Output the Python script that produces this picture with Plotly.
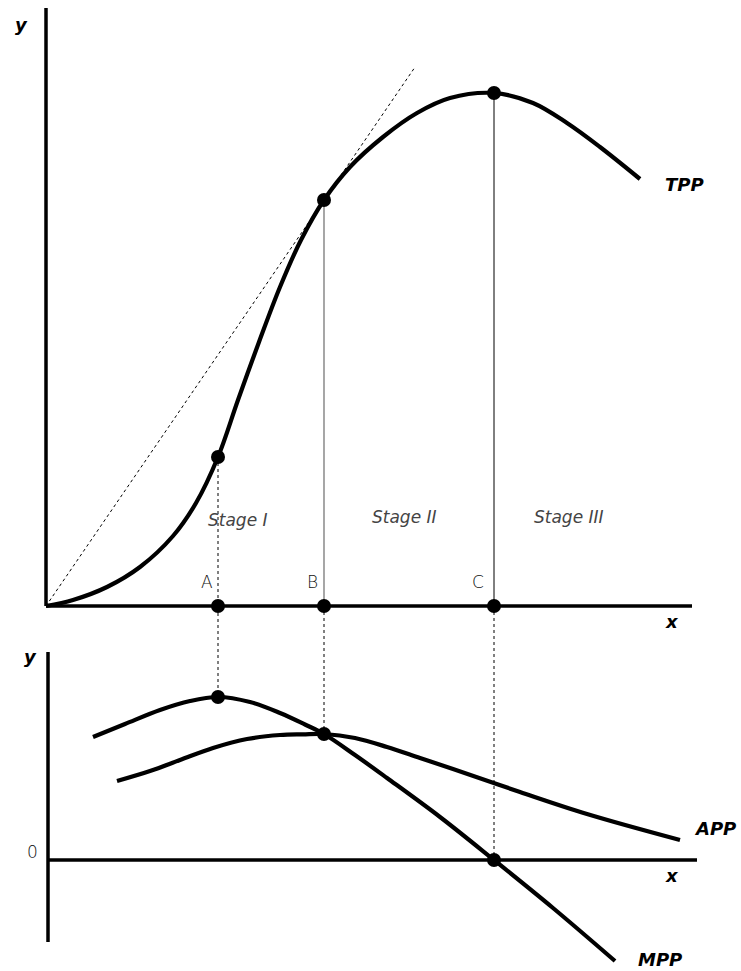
import plotly.graph_objects as go

# ---------------- data ----------------
# key input levels (x) for points A, B, C
point_labels = ["A", "B", "C"]
point_x = [4.3, 6.95, 11.2]

# Total physical product curve
tpp_x = [0, 0.675, 1.525, 2.35, 3.175, 3.75, 4.3, 4.8, 5.325, 5.85, 6.375, 6.95,
         7.6, 8.425, 9.275, 10.1, 11.2, 12.175, 13.025, 13.85, 14.85]
tpp_y = [0, 0.6, 1.9, 3.9, 7.0, 10.3, 14.9, 20.6, 26.4, 31.9, 36.6, 40.6,
         43.9, 46.9, 49.3, 50.8, 51.3, 50.3, 48.3, 45.9, 42.7]
tpp_at_points = [14.9, 40.6, 51.3]

# Marginal physical product curve
mpp_x = [1.175, 1.975, 2.85, 3.6, 4.3, 5.1, 5.85, 6.475, 6.95, 7.725, 8.525, 9.85,
         11.2, 12.675, 14.225]
mpp_y = [12.3, 13.6, 15.0, 15.9, 16.3, 15.8, 14.7, 13.55, 12.6, 10.5, 8.2, 4.3,
         0.0, -4.8, -10.1]
mpp_at_points = [16.3, 12.6, 0.0]

# Average physical product curve
app_x = [1.775, 2.6, 3.35, 4.175, 5.025, 5.85, 6.425, 6.95, 7.725, 8.525, 9.35,
         10.175, 11.85, 13.525, 15.85]
app_y = [7.9, 8.9, 10.0, 11.2, 12.1, 12.5, 12.57, 12.6, 12.2, 11.3, 10.2,
         9.1, 6.8, 4.6, 2.0]

# ray from the origin tangent to TPP at B (extends to this x)
ray_end_x = 9.225

stage_labels = ["Stage I", "Stage II", "Stage III"]
curve_labels = ["TPP", "APP", "MPP"]

# ---------------- layout helpers ----------------
W, H = 741, 971
X_RANGE = [-1.15, 17.375]
Y_RANGE = [-36.5, 60.6]      # top panel
Y2_RANGE = [-11.1, 86.0]     # bottom panel (overlaid)
Y_SHIFT = Y2_RANGE[1] - Y_RANGE[1]   # y2 = y + Y_SHIFT


def P(px, py):
    return px / W, 1 - py / H


fig = go.Figure()

LW = 4.2
DOT = dict(size=14, color="black")
SPL = dict(shape="spline", smoothing=1.0)

# tangent ray (dotted)
slope = tpp_at_points[1] / point_x[1]
fig.add_trace(go.Scatter(x=[0, ray_end_x], y=[0, slope * ray_end_x], mode="lines",
                         line=dict(color="black", width=1, dash="dot"), yaxis="y"))

# vertical guide lines in the top panel
fig.add_trace(go.Scatter(x=[point_x[0], point_x[0]], y=[tpp_at_points[0], mpp_at_points[0] - Y_SHIFT],
                         mode="lines", line=dict(color="black", width=1, dash="dot"), yaxis="y"))
fig.add_trace(go.Scatter(x=[point_x[1], point_x[1]], y=[tpp_at_points[1], 0],
                         mode="lines", line=dict(color="#777777", width=1.3), yaxis="y"))
fig.add_trace(go.Scatter(x=[point_x[2], point_x[2]], y=[tpp_at_points[2], 0],
                         mode="lines", line=dict(color="black", width=1), yaxis="y"))
# dotted continuations into the bottom panel
for i in (1, 2):
    fig.add_trace(go.Scatter(x=[point_x[i], point_x[i]], y=[Y_SHIFT, mpp_at_points[i]],
                             mode="lines", line=dict(color="black", width=1, dash="dot"), yaxis="y2"))

# TPP curve
fig.add_trace(go.Scatter(x=tpp_x, y=tpp_y, mode="lines",
                         line=dict(color="black", width=LW, **SPL), yaxis="y"))
# MPP & APP curves
fig.add_trace(go.Scatter(x=mpp_x, y=mpp_y, mode="lines",
                         line=dict(color="black", width=LW, **SPL), yaxis="y2"))
fig.add_trace(go.Scatter(x=app_x, y=app_y, mode="lines",
                         line=dict(color="black", width=LW, **SPL), yaxis="y2"))

# axis lines (shapes)
AX = dict(color="black", width=3.5)
fig.add_shape(type="line", xref="x", yref="y", x0=0, x1=0, y0=0, y1=59.8, line=AX)
fig.add_shape(type="line", xref="x", yref="y", x0=0, x1=16.15, y0=0, y1=0, line=AX)
fig.add_shape(type="line", xref="x", yref="y2", x0=0.05, x1=0.05, y0=-8.2, y1=20.8, line=AX)
fig.add_shape(type="line", xref="x", yref="y2", x0=0.05, x1=16.275, y0=0, y1=0, line=AX)

# dots
fig.add_trace(go.Scatter(x=point_x, y=tpp_at_points, mode="markers", marker=DOT,
                         cliponaxis=False, yaxis="y"))
fig.add_trace(go.Scatter(x=point_x, y=[0, 0, 0], mode="markers", marker=DOT,
                         cliponaxis=False, yaxis="y"))
fig.add_trace(go.Scatter(x=point_x, y=mpp_at_points, mode="markers", marker=DOT,
                         cliponaxis=False, yaxis="y2"))

# ---------------- texts ----------------
BOLD = dict(family="DejaVu Sans", size=18, color="black", weight="bold", style="italic")
THIN = dict(family="DejaVu Sans", size=17, color="#111111", weight=200)
STG = dict(family="DejaVu Sans", size=17, color="#444444", style="italic", weight=200)


def label(txt, px, py, font):
    x, y = P(px, py)
    fig.add_annotation(x=x, y=y, xref="paper", yref="paper", text=txt, showarrow=False,
                       font=font, xanchor="center", yanchor="middle")


label("y", 21, 24, BOLD)
label("y", 30, 656, BOLD)
label("x", 672, 621, BOLD)
label("x", 672, 875, BOLD)
label(curve_labels[0], 684, 184, BOLD)
label(curve_labels[1], 715, 828, BOLD)
label(curve_labels[2], 660, 959, BOLD)
label("0", 32, 852, THIN)
for lab, px in zip(point_labels, [207, 312, 478]):
    label(lab, px, 582, THIN)
for lab, px, py in zip(stage_labels, [238, 404, 569], [520, 517, 517]):
    label(lab, px, py, STG)

fig.update_layout(
    width=W, height=H, margin=dict(l=0, r=0, t=0, b=0),
    paper_bgcolor="white", plot_bgcolor="white", showlegend=False,
    xaxis=dict(range=X_RANGE, domain=[0, 1], visible=False, fixedrange=True),
    yaxis=dict(range=Y_RANGE, domain=[0, 1], visible=False, fixedrange=True),
    yaxis2=dict(range=Y2_RANGE, overlaying="y", visible=False, fixedrange=True),
)

fig.write_html("out.html", config={"displayModeBar": False},
               post_script="document.body.style.margin='0';document.body.style.overflow='hidden';")
